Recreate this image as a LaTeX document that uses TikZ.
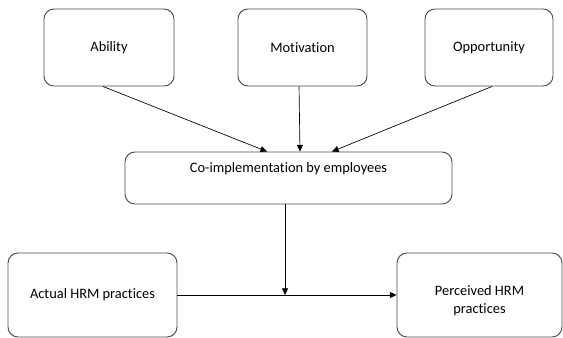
\documentclass[tikz,border=0pt]{standalone}
\usepackage{fontspec}
\setmainfont{Carlito}[Ligatures=NoCommon]
\usetikzlibrary{arrows.meta}

\begin{document}
\begin{tikzpicture}[x=0.75pt, y=-0.75pt, font=\fontsize{10.8}{13.5}\selectfont,
    box/.style={draw=black!70, line width=0.7pt, rounded corners=7.5pt, inner sep=0pt, align=center},
    link/.style={-{Triangle[length=5pt, width=4.5pt]}, line width=0.5pt}]
    \useasboundingbox (0, 0) rectangle (563, 338);
    % top row
    \node[box, minimum width=97.5pt, minimum height=57.75pt](ability) at (109, 47.5){Ability};
    \node[box, minimum width=96.75pt, minimum height=57.75pt](motivation) at (302.5, 47.5){Motivation};
    \node[box, minimum width=96pt, minimum height=57.75pt](opportunity) at (489, 47.5){Opportunity};
    \node[box, minimum width=245.25pt, minimum height=39pt,
        label={[anchor=center, yshift=-12.75pt]north:Co-implementation by employees}](co) at (288.5, 178){};
    % bottom row
    \node[box, minimum width=126.75pt, minimum height=63pt](actual) at (92.5, 295){Actual HRM practices};
    \node[box, minimum width=123.75pt, minimum height=63pt,
        label={[anchor=center, align=center, yshift=-4.5pt]center:Perceived HRM\\practices}](perceived) at (479.5, 295){};
    \draw[link]([xshift=-4.5pt]ability.south)--([xshift=-16.1pt]co.north);
    \draw[link]([xshift=-2.6pt]motivation.south)--([xshift=8.6pt]co.north);
    \draw[link]([xshift=2.25pt]opportunity.south)--([xshift=32.6pt]co.north);
    \draw[link]([xshift=-2.6pt]co.south)--([xshift=-2.6pt]co.south |- actual.east);
    \draw[link](actual.east)--(perceived.west);
\end{tikzpicture}
\end{document}
